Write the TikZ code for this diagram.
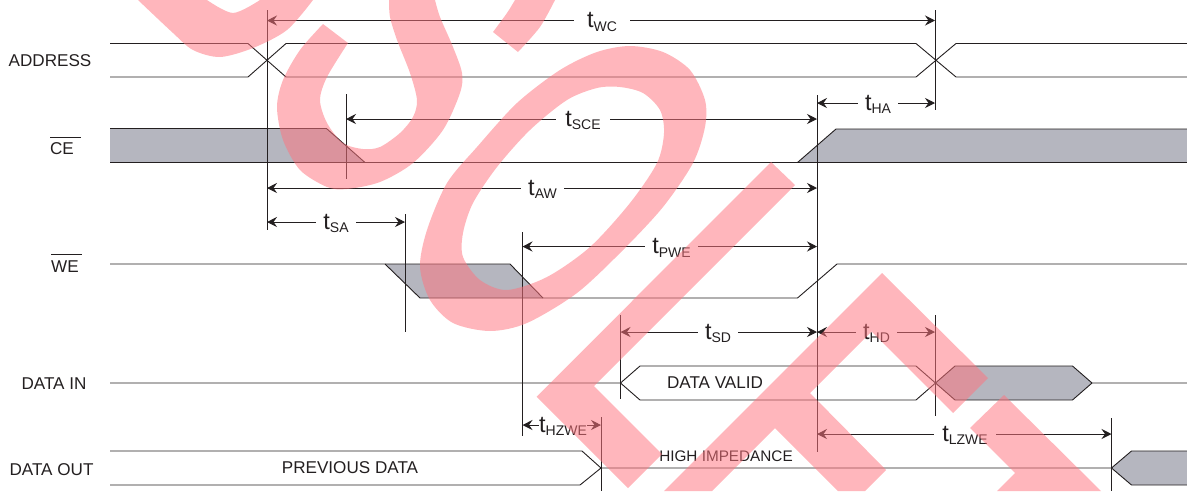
\documentclass[tikz,border=0pt]{standalone}
\usepackage{fontspec}
\setmainfont{Liberation Sans}
\usetikzlibrary{arrows.meta}
\definecolor{ink}{HTML}{231F20}
\definecolor{greyfill}{HTML}{B5B6BF}
\definecolor{stamp}{RGB}{255,116,126}
\newcommand{\tlab}[1]{{\fontsize{23.5}{24}\selectfont t\fontsize{14}{14}\selectfont\raisebox{-3.5pt}{#1}}}
\tikzset{
	sig/.style={line width=0.9pt,color=ink},
	guide/.style={line width=0.9pt,color=ink},
	dimline/.style={line width=0.9pt,color=ink,<-},
	tlabel/.style={inner ysep=0pt,inner xsep=7pt,text=ink,text height=16pt,text depth=2pt},
	signame/.style={inner sep=0pt,text=ink,font=\fontsize{17.1}{18}\selectfont},
	stampfill/.style={fill=stamp,opacity=0.52,even odd rule}
}
\begin{document}
\begin{tikzpicture}[>={Stealth[length=10pt,width=10pt,inset=3.5pt]},x=1pt,y=-1pt]
	\useasboundingbox (0,0) rectangle (1187,491);
	% shaded parts of the signals
	\fill[greyfill] (110,128.5) -- (326.5,128.5) -- (365,162.5) -- (110,162.5) -- cycle;
	\fill[greyfill] (1187,129) -- (836,129) -- (797.5,162.5) -- (1187,162.5) -- cycle;
	\fill[greyfill] (385,264) -- (510,264) -- (543,298) -- (420,298) -- cycle;
	\fill[greyfill] (935,383) -- (955,366) -- (1072.5,366) -- (1092,383) -- (1072.5,400) -- (955,400) -- cycle;
	\fill[greyfill] (1187,451) -- (1131.5,451) -- (1111.5,468) -- (1131.5,485) -- (1187,485) -- cycle;
	% signals
	\draw[sig] (110,43.5) -- (248,43.5) -- (286,77) -- (916,77) -- (956,43.5) -- (1187,43.5);
	\draw[sig] (110,77) -- (248,77) -- (286,43.5) -- (916,43.5) -- (956,77) -- (1187,77);
	\draw[sig] (110,128.5) -- (326.5,128.5) -- (365,162.5);
	\draw[sig] (110,162.5) -- (797.5,162.5) -- (836,129) -- (1187,129);
	\draw[sig] (1187,162.5) -- (797.5,162.5);
	\draw[sig] (110,264) -- (510,264) -- (543,298);
	\draw[sig] (385,264) -- (420,298) -- (797.5,298) -- (837,264) -- (1187,264);
	\draw[sig] (110,383) -- (620.5,383) -- (640,366) -- (916,366) -- (955,400) -- (1072.5,400) -- (1092,383) -- (1187,383);
	\draw[sig] (620.5,383) -- (640,400) -- (916,400) -- (955,366) -- (1072.5,366) -- (1092,383);
	\draw[sig] (110,451) -- (582,451) -- (601,468) -- (580,485) -- (110,485);
	\draw[sig] (601,468) -- (1111.5,468) -- (1131.5,451) -- (1187,451);
	\draw[sig] (1111.5,468) -- (1131.5,485) -- (1187,485);
	% guide lines
	\draw[guide] (267,10) -- (267,230);
	\draw[guide] (346,94) -- (346,179);
	\draw[guide] (405,214) -- (405,332);
	\draw[guide] (522.5,232) -- (522.5,436);
	\draw[guide] (817,95) -- (817,452);
	\draw[guide] (935,10) -- (935,110);
	\draw[guide] (935,315) -- (935,416);
	\draw[guide] (620.5,315) -- (620.5,399);
	\draw[guide] (601,417) -- (601,491);
	\draw[guide] (1111.5,418) -- (1111.5,491);
	% signal names
	\node[signame] (address) at (50,60.5) {ADDRESS};
	\node[signame] (ce) at (62,149) {CE};
	\node[signame] (we) at (65,266.5) {WE};
	\node[signame] (datain) at (54,383.5) {DATA IN};
	\node[signame] (dataout) at (51.5,469.5) {DATA OUT};
	\node[signame] (previous) at (350,468) {PREVIOUS DATA};
	\node[signame] (valid) at (715,383) {DATA VALID};
	\node[signame,font=\fontsize{15.3}{18}\selectfont] (highz) at (726,456.5) {HIGH IMPEDANCE};
	\draw[sig] (50,137.5) -- (81,137.5);
	\draw[sig] (51,254.5) -- (81.5,254.5);
	% timing arrows
	\coordinate (wcL) at (267,20.5);
	\coordinate (wcR) at (935,20.5);
	\node[tlabel,inner xsep=13pt] (twc) at (602,20.5) {\tlab{WC}};
	\draw[dimline] (wcL) -- (twc);
	\draw[dimline] (wcR) -- (twc);
	\coordinate (sceL) at (346,119);
	\coordinate (sceR) at (817,119);
	\node[tlabel,inner xsep=9pt] (tsce) at (583,119) {\tlab{SCE}};
	\draw[dimline] (sceL) -- (tsce);
	\draw[dimline] (sceR) -- (tsce);
	\coordinate (haL) at (817,103);
	\coordinate (haR) at (935,103);
	\node[tlabel] (tha) at (878,103) {\tlab{HA}};
	\draw[dimline] (haL) -- (tha);
	\draw[dimline] (haR) -- (tha);
	\coordinate (awL) at (267,188);
	\coordinate (awR) at (817,188);
	\node[tlabel] (taw) at (542.5,188) {\tlab{AW}};
	\draw[dimline] (awL) -- (taw);
	\draw[dimline] (awR) -- (taw);
	\coordinate (saL) at (267,222);
	\coordinate (saR) at (405,222);
	\node[tlabel] (tsa) at (336,222) {\tlab{SA}};
	\draw[dimline] (saL) -- (tsa);
	\draw[dimline] (saR) -- (tsa);
	\coordinate (pweL) at (522.5,246.5);
	\coordinate (pweR) at (817,246.5);
	\node[tlabel] (tpwe) at (671.5,246.5) {\tlab{PWE}};
	\draw[dimline] (pweL) -- (tpwe);
	\draw[dimline] (pweR) -- (tpwe);
	\coordinate (sdL) at (620.5,332);
	\coordinate (sdR) at (817,332);
	\node[tlabel] (tsd) at (718,332) {\tlab{SD}};
	\draw[dimline] (sdL) -- (tsd);
	\draw[dimline] (sdR) -- (tsd);
	\coordinate (hdL) at (817,332);
	\coordinate (hdR) at (935,332);
	\node[tlabel] (thd) at (876.5,332) {\tlab{HD}};
	\draw[dimline] (hdL) -- (thd);
	\draw[dimline] (hdR) -- (thd);
	\coordinate (hzL) at (522.5,425);
	\coordinate (hzR) at (601,425);
	\node[tlabel,inner xsep=0pt] (thz) at (563,425) {\tlab{HZWE}};
	\draw[dimline] (hzL) -- (thz);
	\draw[dimline] (hzR) -- (thz);
	\coordinate (lzL) at (817,434);
	\coordinate (lzR) at (1111.5,434);
	\node[tlabel,inner xsep=8pt] (tlz) at (965,434) {\tlab{LZWE}};
	\draw[dimline] (lzL) -- (tlz);
	\draw[dimline] (lzR) -- (tlz);
	% stamp across the sheet
	\begin{scope}
	\clip (0,0) rectangle (1187,491);
	\fill[stampfill] (138,0) -- plot[smooth] coordinates {(138,0) (173,33) (193,50) (220,57) (253,48) (287,30) (313,0)} -- (260,0) -- plot[smooth] coordinates {(260,0) (233,13) (207,0)} -- cycle;
	\fill[stampfill] (323,24) -- plot[smooth] coordinates {(323,24) (300,50) (283,80) (277,107) (283,140) (300,170) (327,187) (347,189) (380,182) (413,163) (443,130) (460,93) (462,73) (453,47) (440,17) (435,0)} -- (389,0) -- plot[smooth] coordinates {(389,0) (390,17) (397,40) (410,73) (417,100) (413,117) (400,133) (380,147) (363,149) (343,143) (327,123) (320,100) (327,77) (348,43)} -- cycle;
	\fill[stampfill] (493,32) -- plot[smooth] coordinates {(493,32) (507,13) (515,0)} -- (555,0) -- plot[smooth] coordinates {(555,0) (540,27) (518,52)} -- cycle;
	\fill[stampfill] plot[smooth cycle] coordinates {(630,46) (663,52) (690,70) (705,100) (705,127) (693,163) (663,207) (623,250) (577,293) (527,323) (490,331) (453,323) (430,300) (420,267) (427,230) (447,183) (477,147) (517,103) (560,70) (597,52)}
		plot[smooth cycle] coordinates {(620,87) (643,93) (660,110) (664,133) (657,163) (630,203) (590,247) (547,277) (507,290) (480,280) (463,257) (463,233) (473,203) (497,167) (530,130) (567,100) (597,88)};
	\fill[stampfill] (771,162) -- (536.7,396.7) -- (628,488) -- (662,454) -- (594,386) -- (795,185) -- cycle;
	\fill[stampfill] (882,273) -- (664,491) -- (712,491) -- (775,428) -- (838,491) -- (865,491) -- (886,470) -- (810,393) -- (871.5,331.5) -- (953,413) -- (988,378) -- cycle;
	\fill[stampfill] (1004,395) -- (970,428) -- (1015,473) -- (997,491) -- (1101,491) -- cycle;
	\end{scope}
\end{tikzpicture}
\end{document}
